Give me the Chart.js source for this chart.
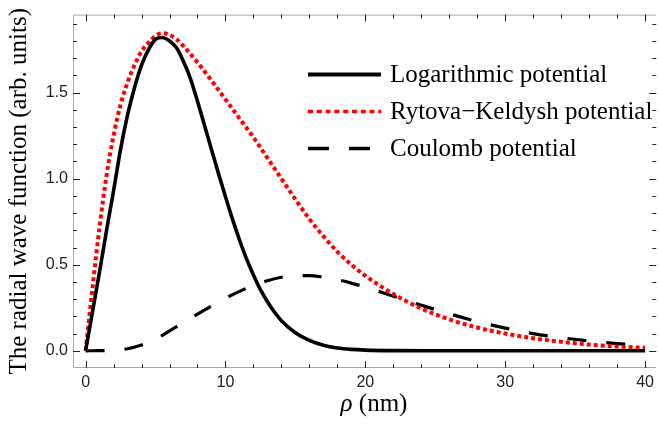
<!DOCTYPE html>
<html>
<head>
<meta charset="utf-8">
<script src="https://cdn.jsdelivr.net/npm/chart.js@4"></script>
<style>
  html, body { margin: 0; padding: 0; background: #fff; }
  #wrap { width: 659px; height: 431px; }
</style>
</head>
<body>
<div id="wrap"><canvas id="radialChart"></canvas></div>
<script>
// values
const logRho = [0, 0.5, 1, 1.5, 2, 2.5, 3, 3.5, 4, 4.5, 5, 5.5, 6, 6.5, 7, 7.5, 8, 8.5, 9, 9.5,
  10, 10.5, 11, 11.5, 12, 12.5, 13, 13.5, 14, 15, 16, 17, 18, 19, 20, 22, 25, 30, 35, 40]
const logPsi = [0, 0.23, 0.46, 0.70, 0.93, 1.17, 1.37, 1.53, 1.66, 1.75, 1.81, 1.82, 1.80, 1.76, 1.68, 1.58, 1.45, 1.31, 1.17, 1.03,
  0.895, 0.765, 0.645, 0.535, 0.44, 0.355, 0.285, 0.225, 0.175, 0.105, 0.06, 0.032, 0.016, 0.008, 0.004, 0.001, 0, 0, 0, 0]

const rkRho = [0, 0.5, 1, 1.5, 2, 2.5, 3, 3.5, 4, 4.5, 5, 5.5, 6, 6.5, 7, 8, 9, 10, 11, 12, 13, 14,
  15, 16, 17, 18, 19, 20, 21, 22, 24, 26, 28, 30, 32, 34, 36, 38, 40]
const rkPsi = [0, 0.37, 0.72, 1.02, 1.25, 1.43, 1.56, 1.66, 1.74, 1.79, 1.83, 1.845, 1.835, 1.81, 1.77, 1.675, 1.57, 1.46, 1.35, 1.24, 1.12, 1.00,
  0.88, 0.765, 0.665, 0.575, 0.50, 0.435, 0.38, 0.33, 0.245, 0.182, 0.135, 0.10, 0.073, 0.052, 0.036, 0.025, 0.017]

const coulRho = [0, 1, 2, 3, 4, 5, 6, 7, 8, 9, 10, 11, 12, 13, 14, 15, 16, 17, 18, 19, 20,
  22, 24, 26, 28, 30, 32, 34, 36, 38, 40]
const coulPsi = [0, 0.0005, 0.003, 0.012, 0.033, 0.068, 0.115, 0.165, 0.213, 0.26, 0.305, 0.345, 0.38, 0.407, 0.427, 0.437, 0.437, 0.428, 0.413, 0.393, 0.37,
  0.317, 0.265, 0.215, 0.17, 0.132, 0.10, 0.076, 0.057, 0.042, 0.031]

const seriesLabels = ['Logarithmic potential', 'Rytova\u2212Keldysh potential', 'Coulomb potential']

const xTicks = [0, 10, 20, 30, 40]
const xMinor = [0, 2, 4, 6, 8, 10, 12, 14, 16, 18, 20, 22, 24, 26, 28, 30, 32, 34, 36, 38, 40]
const yTicks = [0, 0.5, 1.0, 1.5]
const yMinor = [0, 0.1, 0.2, 0.3, 0.4, 0.5, 0.6, 0.7, 0.8, 0.9, 1.0, 1.1, 1.2, 1.3, 1.4, 1.5, 1.6, 1.7, 1.8, 1.9]

const toPoints = (xs, ys) => xs.map((v, i) => ({ x: v, y: ys[i] }))

// Mathematica-style frame with inward ticks on all sides
const frameTicks = {
    id: 'frameTicks',
    afterDatasetsDraw(chart) {
        const { ctx, chartArea: a, scales: { x, y } } = chart
        ctx.save()
        ctx.strokeStyle = '#a8a8a8'
        ctx.lineWidth = 1
        ctx.beginPath()
        ctx.moveTo(a.right, a.top + 0.5)
        ctx.lineTo(a.left + 0.5, a.top + 0.5)
        ctx.lineTo(a.left + 0.5, a.bottom - 0.5)
        ctx.lineTo(a.right, a.bottom - 0.5)
        ctx.stroke()

        ctx.strokeStyle = '#222'
        ctx.beginPath()
        xMinor.forEach(v => {
            const px = Math.round(x.getPixelForValue(v)) + 0.5
            const len = xTicks.includes(v) ? 7 : 4
            ctx.moveTo(px, a.bottom); ctx.lineTo(px, a.bottom - len)
            ctx.moveTo(px, a.top); ctx.lineTo(px, a.top + len)
        })
        yMinor.forEach(v => {
            const py = Math.round(y.getPixelForValue(v)) + 0.5
            const len = yTicks.includes(v) ? 7 : 4
            ctx.moveTo(a.left, py); ctx.lineTo(a.left + len, py)
            ctx.moveTo(a.right, py); ctx.lineTo(a.right - len, py)
        })
        ctx.stroke()
        ctx.restore()
    }
}

// legend in the upper right + italic rho axis title
const sideText = {
    id: 'sideText',
    afterDraw(chart) {
        const { ctx } = chart
        const rows = [74.5, 111.5, 148.5]
        const dashes = [[], [5, 3.8], [21, 20]]
        ctx.save()
        chart.data.datasets.forEach((ds, i) => {
            ctx.beginPath()
            ctx.setLineDash(dashes[i])
            ctx.lineWidth = i === 0 ? 4 : 3.4
            ctx.strokeStyle = ds.borderColor
            ctx.moveTo(308, rows[i])
            ctx.lineTo(381, rows[i])
            ctx.stroke()
        })
        ctx.setLineDash([])
        ctx.fillStyle = '#000'
        ctx.font = '25px "Liberation Serif"'
        ctx.textBaseline = 'alphabetic'
        chart.data.datasets.forEach((ds, i) => {
            ctx.fillText(ds.label, 390, rows[i] + 7.5)
        })

        ctx.font = 'italic 25px "Liberation Serif"'
        const w1 = ctx.measureText('\u03C1').width
        ctx.font = '25px "Liberation Serif"'
        const w2 = ctx.measureText(' (nm)').width
        const start = 374 - (w1 + w2) / 2
        ctx.font = 'italic 25px "Liberation Serif"'
        ctx.fillText('\u03C1', start, 411)
        ctx.font = '25px "Liberation Serif"'
        ctx.fillText(' (nm)', start + w1, 411)
        ctx.restore()
    }
}

const radialChart = document.getElementById('radialChart').getContext('2d')

new Chart(radialChart, {
    type: 'scatter',
    data: {
        datasets: [{
            label: seriesLabels[0],
            data: toPoints(logRho, logPsi),
            borderColor: '#000',
            borderWidth: 3.6,
        }, {
            label: seriesLabels[1],
            data: toPoints(rkRho, rkPsi),
            borderColor: '#ff0000',
            borderWidth: 4,
            borderDash: [4, 3],
        }, {
            label: seriesLabels[2],
            data: toPoints(coulRho, coulPsi),
            borderColor: '#000',
            borderWidth: 3.2,
            borderDash: [19, 20],
        }]
    },
    options: {
        responsive: true,
        maintainAspectRatio: false,
        animation: false,
        devicePixelRatio: 1,
        showLine: true,
        datasets: {
            scatter: {
                pointRadius: 0,
                cubicInterpolationMode: 'monotone',
                borderCapStyle: 'butt',
            }
        },
        layout: { padding: { top: 5, right: 0, left: 0, bottom: 0 } },
        plugins: {
            legend: { display: false },
            tooltip: { enabled: false }
        },
        scales: {
            x: {
                type: 'linear',
                min: -0.9,
                max: 40.8,
                grid: { display: false, drawTicks: false },
                border: { display: false },
                afterBuildTicks: scale => { scale.ticks = xTicks.map(v => ({ value: v })) },
                afterFit: scale => { scale.height = 63 },
                ticks: {
                    padding: 5,
                    maxRotation: 0,
                    color: '#222',
                    font: { family: '"Liberation Sans"', size: 16 },
                    callback: v => String(v)
                }
            },
            y: {
                type: 'linear',
                min: -0.1,
                max: 1.953,
                grid: { display: false, drawTicks: false },
                border: { display: false },
                afterBuildTicks: scale => { scale.ticks = yTicks.map(v => ({ value: v })) },
                afterFit: scale => { scale.width = 73 },
                ticks: {
                    padding: 5,
                    color: '#222',
                    font: { family: '"Liberation Sans"', size: 16 },
                    callback: v => Number(v).toFixed(1)
                },
                title: {
                    display: true,
                    text: 'The radial wave function (arb. units)',
                    color: '#000',
                    padding: { top: 4, bottom: 0 },
                    font: { family: '"Liberation Serif"', size: 25 }
                }
            }
        }
    },
    plugins: [frameTicks, sideText]
})
</script>
</body>
</html>
